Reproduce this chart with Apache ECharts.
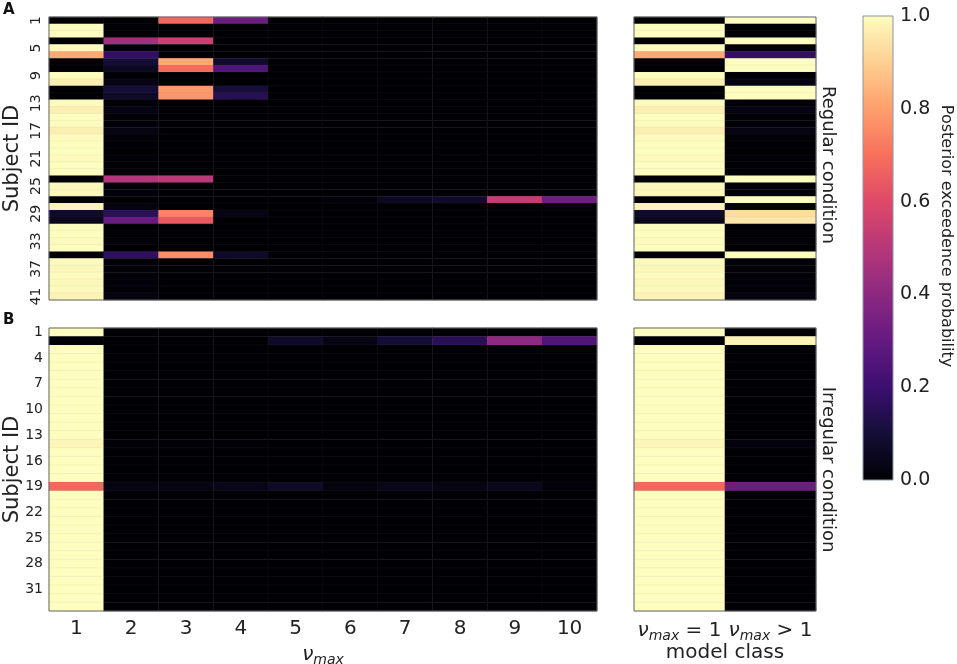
<!DOCTYPE html>
<html>
<head>
<meta charset="utf-8">
<title>Posterior exceedence probability</title>
<script src="https://cdn.jsdelivr.net/npm/echarts@6/dist/echarts.min.js"></script>
<style>
html, body { margin: 0; padding: 0; background: #fff; }
#chart { width: 957px; height: 664px; }
</style>
</head>
<body>
<div id="chart"></div>
<script>
// 模型编号 (nu_max) 与模型类别
var nuLabels = ['1', '2', '3', '4', '5', '6', '7', '8', '9', '10'];
var classLabels = ['ν_max = 1', 'ν_max > 1'];

// 受试者编号
var regularIds = ['1','2','3','4','5','6','7','8','9','10','11','12','13','14','15','16','17','18','19','20',
    '21','22','23','24','25','26','27','28','29','30','31','32','33','34','35','36','37','38','39','40','41'];
var irregularIds = ['1','2','3','4','5','6','7','8','9','10','11','12','13','14','15','16','17',
    '18','19','20','21','22','23','24','25','26','27','28','29','30','31','32','33'];

// 色条刻度
var barTicks = [0, 0.2, 0.4, 0.6, 0.8, 1.0];

// A: 规则条件, 每行一个受试者, 每列一个 nu_max
var regularProbs = [
    [0, 0, 0.68, 0.32, 0, 0, 0, 0, 0, 0],
    [1, 0, 0, 0, 0, 0, 0, 0, 0, 0],
    [1, 0, 0, 0, 0, 0, 0, 0, 0, 0],
    [0, 0.45, 0.55, 0, 0, 0, 0, 0, 0, 0],
    [0.995, 0.005, 0, 0, 0, 0, 0, 0, 0, 0],
    [0.82, 0.18, 0, 0, 0, 0, 0, 0, 0, 0],
    [0, 0.1, 0.82, 0.08, 0, 0, 0, 0, 0, 0],
    [0, 0.06, 0.69, 0.25, 0, 0, 0, 0, 0, 0],
    [1, 0, 0, 0, 0, 0, 0, 0, 0, 0],
    [0.97, 0.03, 0, 0, 0, 0, 0, 0, 0, 0],
    [0, 0.1, 0.79, 0.11, 0, 0, 0, 0, 0, 0],
    [0, 0.07, 0.78, 0.15, 0, 0, 0, 0, 0, 0],
    [0.995, 0.005, 0, 0, 0, 0, 0, 0, 0, 0],
    [0.97, 0.03, 0, 0, 0, 0, 0, 0, 0, 0],
    [1, 0, 0, 0, 0, 0, 0, 0, 0, 0],
    [0.995, 0.005, 0, 0, 0, 0, 0, 0, 0, 0],
    [0.97, 0.03, 0, 0, 0, 0, 0, 0, 0, 0],
    [0.995, 0.005, 0, 0, 0, 0, 0, 0, 0, 0],
    [1, 0, 0, 0, 0, 0, 0, 0, 0, 0],
    [1, 0, 0, 0, 0, 0, 0, 0, 0, 0],
    [0.995, 0.005, 0, 0, 0, 0, 0, 0, 0, 0],
    [1, 0, 0, 0, 0, 0, 0, 0, 0, 0],
    [1, 0, 0, 0, 0, 0, 0, 0, 0, 0],
    [0, 0.49, 0.51, 0, 0, 0, 0, 0, 0, 0],
    [0.99, 0.01, 0, 0, 0, 0, 0, 0, 0, 0],
    [0.99, 0.01, 0, 0, 0, 0, 0, 0, 0, 0],
    [0, 0, 0, 0, 0, 0.01, 0.06, 0.08, 0.53, 0.32],
    [0.98, 0.02, 0, 0, 0, 0, 0, 0, 0, 0],
    [0.07, 0.16, 0.74, 0.03, 0, 0, 0, 0, 0, 0],
    [0.05, 0.31, 0.64, 0, 0, 0, 0, 0, 0, 0],
    [1, 0, 0, 0, 0, 0, 0, 0, 0, 0],
    [1, 0, 0, 0, 0, 0, 0, 0, 0, 0],
    [0.995, 0.005, 0, 0, 0, 0, 0, 0, 0, 0],
    [1, 0, 0, 0, 0, 0, 0, 0, 0, 0],
    [0, 0.17, 0.76, 0.07, 0, 0, 0, 0, 0, 0],
    [0.995, 0.005, 0, 0, 0, 0, 0, 0, 0, 0],
    [0.99, 0.01, 0, 0, 0, 0, 0, 0, 0, 0],
    [0.995, 0.005, 0, 0, 0, 0, 0, 0, 0, 0],
    [0.99, 0.01, 0, 0, 0, 0, 0, 0, 0, 0],
    [0.995, 0.005, 0, 0, 0, 0, 0, 0, 0, 0],
    [0.98, 0.02, 0, 0, 0, 0, 0, 0, 0, 0]
];

// A: 模型类别 [nu_max = 1, nu_max > 1]
var regularClass = [
    [0, 1], [1, 0], [1, 0], [0, 1], [0.995, 0.005], [0.82, 0.18], [0, 1], [0, 1], [1, 0], [0.97, 0.03],
    [0, 1], [0, 1], [0.995, 0.005], [0.97, 0.03], [1, 0], [0.995, 0.005], [0.97, 0.03], [0.995, 0.005], [1, 0], [1, 0],
    [0.995, 0.005], [1, 0], [1, 0], [0, 1], [0.99, 0.01], [0.99, 0.01], [0, 1], [0.98, 0.02], [0.07, 0.93], [0.05, 0.95],
    [1, 0], [1, 0], [0.995, 0.005], [1, 0], [0, 1], [0.995, 0.005], [0.99, 0.01], [0.995, 0.005], [0.99, 0.01], [0.995, 0.005],
    [0.98, 0.02]
];

// B: 不规则条件
var irregularProbs = [
    [1, 0, 0, 0, 0, 0, 0, 0, 0, 0],
    [0, 0, 0, 0, 0.07, 0.03, 0.1, 0.15, 0.4, 0.25],
    [1, 0, 0, 0, 0, 0, 0, 0, 0, 0],
    [1, 0, 0, 0, 0, 0, 0, 0, 0, 0],
    [1, 0, 0, 0, 0, 0, 0, 0, 0, 0],
    [1, 0, 0, 0, 0, 0, 0, 0, 0, 0],
    [1, 0, 0, 0, 0, 0, 0, 0, 0, 0],
    [1, 0, 0, 0, 0, 0, 0, 0, 0, 0],
    [1, 0, 0, 0, 0, 0, 0, 0, 0, 0],
    [1, 0, 0, 0, 0, 0, 0, 0, 0, 0],
    [1, 0, 0, 0, 0, 0, 0, 0, 0, 0],
    [1, 0, 0, 0, 0, 0, 0, 0, 0, 0],
    [1, 0, 0, 0, 0, 0, 0, 0, 0, 0],
    [0.985, 0.005, 0.005, 0.005, 0, 0, 0, 0, 0, 0],
    [1, 0, 0, 0, 0, 0, 0, 0, 0, 0],
    [1, 0, 0, 0, 0, 0, 0, 0, 0, 0],
    [1, 0, 0, 0, 0, 0, 0, 0, 0, 0],
    [1, 0, 0, 0, 0, 0, 0, 0, 0, 0],
    [0.68, 0.03, 0.03, 0.04, 0.07, 0.02, 0.04, 0.03, 0.05, 0.01],
    [1, 0, 0, 0, 0, 0, 0, 0, 0, 0],
    [1, 0, 0, 0, 0, 0, 0, 0, 0, 0],
    [1, 0, 0, 0, 0, 0, 0, 0, 0, 0],
    [1, 0, 0, 0, 0, 0, 0, 0, 0, 0],
    [1, 0, 0, 0, 0, 0, 0, 0, 0, 0],
    [1, 0, 0, 0, 0, 0, 0, 0, 0, 0],
    [1, 0, 0, 0, 0, 0, 0, 0, 0, 0],
    [1, 0, 0, 0, 0, 0, 0, 0, 0, 0],
    [1, 0, 0, 0, 0, 0, 0, 0, 0, 0],
    [1, 0, 0, 0, 0, 0, 0, 0, 0, 0],
    [1, 0, 0, 0, 0, 0, 0, 0, 0, 0],
    [1, 0, 0, 0, 0, 0, 0, 0, 0, 0],
    [1, 0, 0, 0, 0, 0, 0, 0, 0, 0],
    [1, 0, 0, 0, 0, 0, 0, 0, 0, 0]
];

var irregularClass = [
    [1, 0], [0, 0.98], [1, 0], [1, 0], [1, 0], [1, 0], [1, 0], [1, 0], [1, 0], [1, 0],
    [1, 0], [1, 0], [1, 0], [0.985, 0.015], [1, 0], [1, 0], [1, 0], [1, 0], [0.68, 0.32], [1, 0],
    [1, 0], [1, 0], [1, 0], [1, 0], [1, 0], [1, 0], [1, 0], [1, 0], [1, 0], [1, 0],
    [1, 0], [1, 0], [1, 0]
];

// magma 色表
var magma = ['#000004', '#140e36', '#3b0f70', '#641a80', '#8c2981', '#b73779',
    '#de4968', '#f7705c', '#fe9f6d', '#fecf92', '#fcfdbf'];

var FONT = 'DejaVu Sans';
var TXT = '#222';

// 行列数组 -> 热力图 [x, y, value]
function toCells(rows) {
    var out = [];
    rows.forEach(function (r, i) {
        r.forEach(function (v, j) { out.push([j, i, v]); });
    });
    return out;
}

var subRich = {
    nu: { fontSize: 20, fontStyle: 'italic', fontFamily: FONT, color: TXT },
    sub: { fontSize: 14, fontStyle: 'italic', fontFamily: FONT, color: TXT, padding: [10, 0, 0, 0] }
};
function nuFormat(s) {
    return s.replace('ν_max', '{nu|ν}{sub|max}');
}

var gridFrame = { show: true, borderColor: '#666', borderWidth: 1, backgroundColor: 'transparent',
    z: 10, outerBoundsMode: 'none', containLabel: false };

function catX(idx, labels, showLabels, extra) {
    return Object.assign({
        type: 'category', gridIndex: idx, data: labels, nameMoveOverlap: false,
        axisLine: { show: false }, axisTick: { show: false }, splitLine: { show: false },
        axisLabel: { show: showLabels, interval: 0, fontSize: 20, color: TXT, fontFamily: FONT, margin: 8 }
    }, extra || {});
}
function catY(idx, labels, extra) {
    return Object.assign({
        type: 'category', gridIndex: idx, data: labels, inverse: true, nameMoveOverlap: false,
        axisLine: { show: false }, axisTick: { show: false }, splitLine: { show: false },
        axisLabel: { show: false }
    }, extra || {});
}
function heat(xi, cells) {
    return {
        type: 'heatmap', xAxisIndex: xi, yAxisIndex: xi, data: cells,
        itemStyle: { borderColor: 'rgba(128,128,128,0.15)', borderWidth: 0.5 },
        emphasis: { disabled: true }, silent: true, progressive: 0
    };
}

// 色条用的渐变 (顶部 = 1.0)
var barGradient = new echarts.graphic.LinearGradient(0, 1, 0, 0, magma.map(function (c, i) {
    return { offset: i / (magma.length - 1), color: c };
}));

var chart = echarts.init(document.getElementById('chart'));

var option = {
    backgroundColor: '#fff',
    animation: false,
    textStyle: { fontFamily: FONT },
    grid: [
        Object.assign({ left: 49, top: 17, width: 548, height: 283 }, gridFrame),
        Object.assign({ left: 634, top: 17, width: 182, height: 283 }, gridFrame),
        Object.assign({ left: 49, top: 328, width: 548, height: 283 }, gridFrame),
        Object.assign({ left: 634, top: 328, width: 182, height: 283 }, gridFrame),
        { left: 863, top: 16, width: 30, height: 464, show: true, borderColor: '#8a96a8', borderWidth: 1,
          backgroundColor: barGradient, outerBoundsMode: 'none', containLabel: false }
    ],
    xAxis: [
        catX(0, nuLabels, false),
        catX(1, classLabels, false),
        catX(2, nuLabels, true, {
            name: nuFormat('ν_max'), nameLocation: 'middle', nameGap: 32,
            nameTextStyle: { rich: subRich }
        }),
        catX(3, classLabels, true, {
            axisLabel: { show: true, interval: 0, fontSize: 20, color: TXT, fontFamily: FONT, margin: 8,
                formatter: nuFormat, rich: subRich },
            name: 'model class', nameLocation: 'middle', nameGap: 32,
            nameTextStyle: { fontSize: 20, color: TXT, fontFamily: FONT }
        }),
        { type: 'value', gridIndex: 4, min: 0, max: 1, show: false }
    ],
    yAxis: [
        catY(0, regularIds, {
            axisLabel: { show: true, interval: 3, rotate: 90, fontSize: 14, color: TXT, fontFamily: FONT, margin: 6 },
            name: 'Subject ID', nameLocation: 'middle', nameGap: 26,
            nameTextStyle: { fontSize: 21, color: TXT, fontFamily: FONT }
        }),
        catY(1, regularIds, {
            position: 'right',
            name: 'Regular condition', nameLocation: 'middle', nameGap: 3, nameRotate: -90,
            nameTextStyle: { fontSize: 18, color: TXT, fontFamily: FONT, padding: [0, 0, 0, 13] }
        }),
        catY(2, irregularIds, {
            axisLabel: { show: true, interval: 2, fontSize: 14, color: TXT, fontFamily: FONT, margin: 6 },
            name: 'Subject ID', nameLocation: 'middle', nameGap: 26,
            nameTextStyle: { fontSize: 21, color: TXT, fontFamily: FONT }
        }),
        catY(3, irregularIds, {
            position: 'right',
            name: 'Irregular condition', nameLocation: 'middle', nameGap: 3, nameRotate: -90,
            nameTextStyle: { fontSize: 18, color: TXT, fontFamily: FONT }
        }),
        {
            type: 'value', gridIndex: 4, position: 'right', min: barTicks[0], max: barTicks[barTicks.length - 1],
            interval: 0.2, nameMoveOverlap: false,
            axisLine: { show: false }, splitLine: { show: false }, axisTick: { show: false },
            axisLabel: { fontSize: 19, color: TXT, fontFamily: FONT, margin: 7,
                formatter: function (v) { return v.toFixed(1); } },
            name: 'Posterior exceedence probability', nameLocation: 'middle', nameGap: 45, nameRotate: -90,
            nameTextStyle: { fontSize: 16, color: TXT, fontFamily: FONT, padding: [0, 24, 0, 0] }
        }
    ],
    visualMap: {
        type: 'continuous', show: false, min: 0, max: 1, dimension: 2, seriesIndex: [0, 1, 2, 3],
        inRange: { color: magma }
    },
    graphic: [
        { type: 'text', left: 3, top: 3, style: { text: 'A', font: 'bold 15px "DejaVu Sans"', fill: '#111' } },
        { type: 'text', left: 3, top: 313, style: { text: 'B', font: 'bold 15px "DejaVu Sans"', fill: '#111' } }
    ],
    series: [
        heat(0, toCells(regularProbs)),
        heat(1, toCells(regularClass)),
        heat(2, toCells(irregularProbs)),
        heat(3, toCells(irregularClass))
    ]
};

chart.setOption(option);
</script>
</body>
</html>
